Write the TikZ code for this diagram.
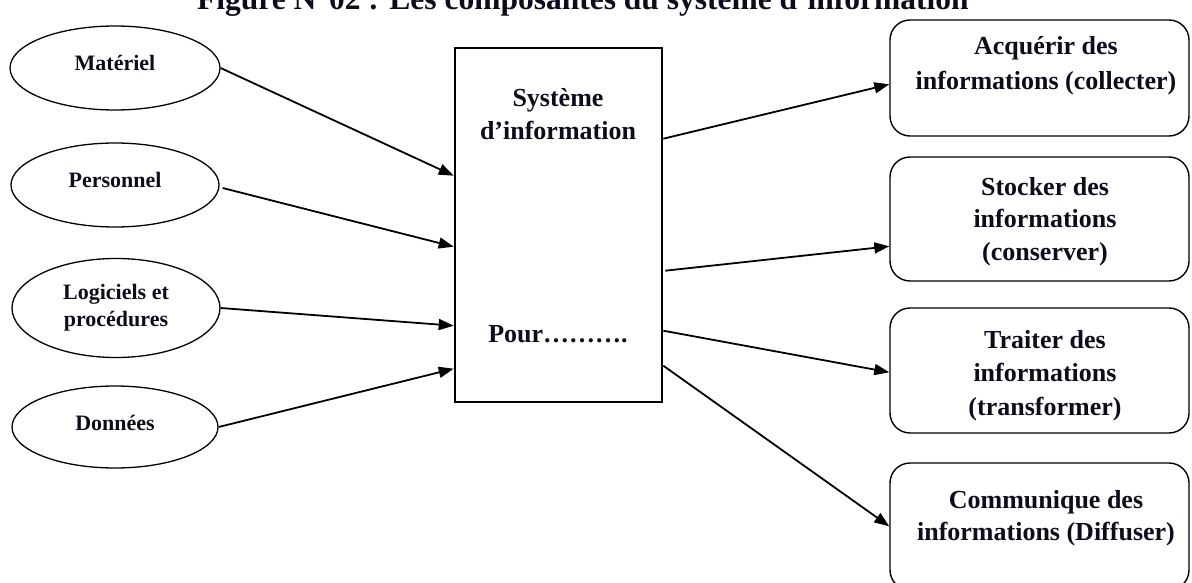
\documentclass[tikz,border=0pt]{standalone}
\usepackage{fontspec}
\setmainfont{Liberation Serif}
\usetikzlibrary{arrows.meta,calc,shapes.geometric}
\definecolor{ink}{RGB}{12,12,28}
\begin{document}
\begin{tikzpicture}[x=1pt,y=-1pt,
  ell/.style={draw=black, ellipse, line width=1.3pt, inner sep=0pt, text=ink,
              font=\bfseries\fontsize{22}{27}\selectfont, align=center},
  raise/.style={text depth=10pt},
  sysbox/.style={draw=black, rectangle, line width=2.6pt, inner sep=0pt,
              minimum width=207pt, minimum height=354pt},
  rbox/.style={draw=black, rectangle, rounded corners=20pt, line width=1.4pt, inner sep=0pt,
              minimum width=299pt},
  btxt/.style={text=ink, font=\bfseries\fontsize{26}{33}\selectfont, align=center, inner sep=0pt, anchor=base},
  arr/.style={line width=1.8pt, -{Triangle[length=15pt,width=11pt]}}
]
\useasboundingbox (0,0) rectangle (1192,583);

% title (partly cut off at the top, as in the reference)
\node[anchor=base west, inner sep=0pt, text=ink, font=\bfseries\fontsize{31.5}{36}\selectfont]
  (title) at (197,10) {Figure N°02 : Les composantes du système d’information};

% left ellipses
\node[ell, raise, minimum width=210pt, minimum height=84pt] (mat) at (115,68) {Matériel};
\node[ell, raise, minimum width=208pt, minimum height=84pt] (per) at (115,185) {Personnel};
\node[ell, minimum width=208pt, minimum height=99pt] (log) at (116,308) {Logiciels et\\procédures};
\node[ell, text depth=8pt, minimum width=206pt, minimum height=82pt] (don) at (115,427) {Données};

% central box
\node[sysbox] (sys) at (558.5,225) {};
\node[btxt] (sys1) at (558,140) {Système\\d’information};
\node[btxt] (pour) at (558,342) {Pour……….};

% right boxes
\node[rbox, minimum height=116pt] (b1) at (1039.5,78) {};
\node[rbox, minimum height=124pt] (b2) at (1039.5,219) {};
\node[rbox, minimum height=125pt] (b3) at (1039.5,370.5) {};
\node[rbox, minimum height=127pt] (b4) at (1039.5,526.5) {};

\node[btxt, font=\bfseries\fontsize{26}{35}\selectfont] (t1) at (1046,90) {Acquérir des\\informations (collecter)};
\node[btxt, font=\bfseries\fontsize{26}{32.5}\selectfont] (t2) at (1045,260) {Stocker des\\informations\\(conserver)};
\node[btxt, font=\bfseries\fontsize{26}{33.5}\selectfont] (t3) at (1045,415) {Traiter des\\informations\\(transformer)};
\node[btxt, font=\bfseries\fontsize{26}{32}\selectfont] (t4) at (1046,540) {Communique des\\informations (Diffuser)};

% input arrows
\draw[arr] (mat.east) -- ($(sys.north west)+(0,129)$);
\draw[arr] ($(per.east)+(3,3)$) -- ($(sys.north west)+(0,200)$);
\draw[arr] (log.east) -- ($(sys.north west)+(0,279)$);
\draw[arr] (don.east) -- ($(sys.north west)+(0,322)$);

% output arrows
\draw[arr] ($(sys.north east)+(0,92)$) -- ($(b1.north west)+(0,65)$);
\draw[arr] ($(sys.north east)+(2,224)$) -- ($(b2.north west)+(0,90)$);
\draw[arr] ($(sys.north east)+(0,284)$) -- ($(b3.north west)+(0,65)$);
\draw[arr] ($(sys.north east)+(0,319)$) -- ($(b4.north west)+(0,64)$);
\end{tikzpicture}
\end{document}
